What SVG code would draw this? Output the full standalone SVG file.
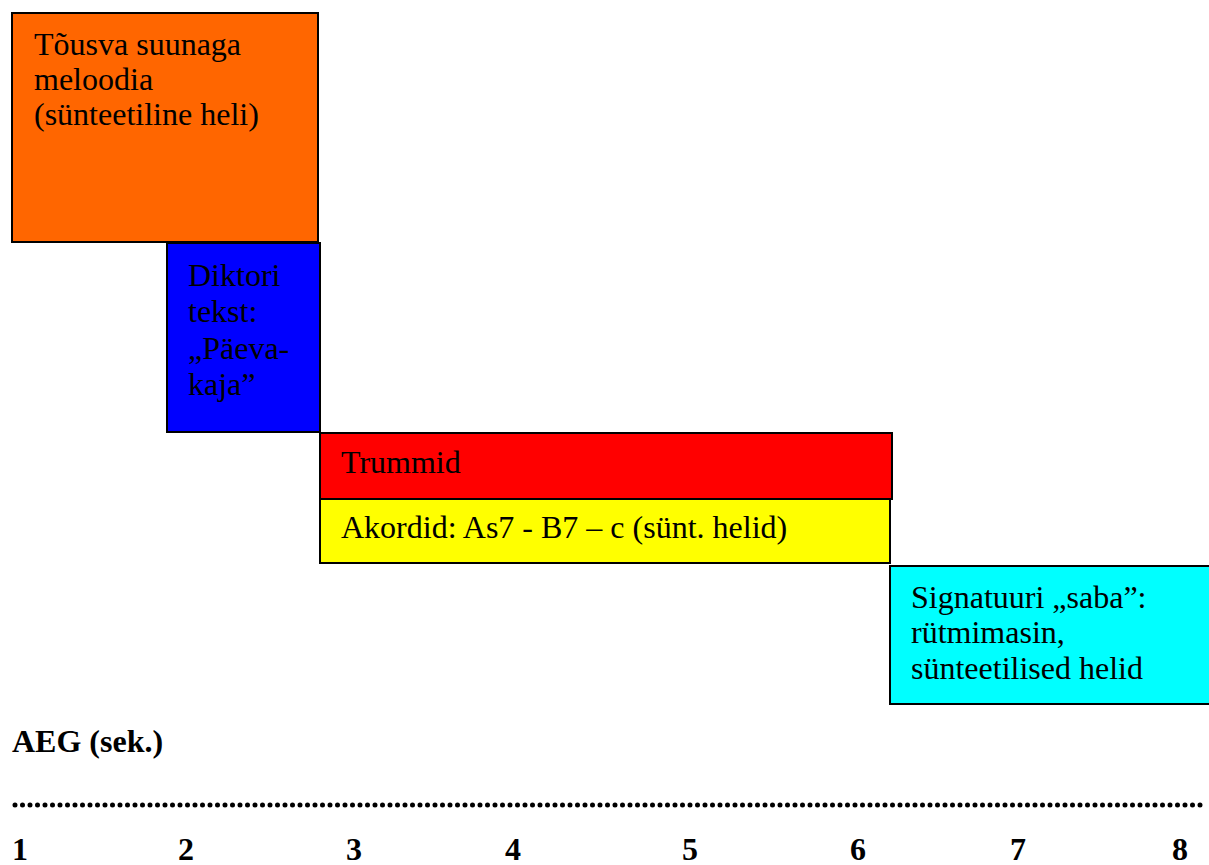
<svg xmlns="http://www.w3.org/2000/svg" width="1209" height="865" viewBox="0 0 1209 865">
<style>
.box{stroke:#000;stroke-width:2}
.t{font-family:"Liberation Serif","Times New Roman",serif;font-size:32px;fill:#000}
.b{font-family:"Liberation Serif","Times New Roman",serif;font-size:32px;font-weight:bold;fill:#000}
</style>
<rect width="1209" height="865" fill="#fff"/>
<g id="melody">
<rect class="box" x="12" y="13" width="306" height="229" fill="#ff6600"/>
<text class="t" x="34" y="55">Tõusva suunaga</text>
<text class="t" x="34" y="90">meloodia</text>
<text class="t" x="34" y="125">(sünteetiline heli)</text>
</g>
<g id="diktor">
<rect class="box" x="167" y="243" width="153" height="189" fill="#0000ff"/>
<text class="t" x="188" y="286">Diktori</text>
<text class="t" x="188" y="322">tekst:</text>
<text class="t" x="188" y="359">„Päeva-</text>
<text class="t" x="188" y="395">kaja”</text>
</g>
<g id="trummid">
<rect class="box" x="320" y="433" width="572" height="66" fill="#ff0000"/>
<text class="t" x="341" y="473">Trummid</text>
</g>
<g id="akordid">
<rect class="box" x="320" y="499" width="570" height="64" fill="#ffff00"/>
<text class="t" x="341" y="538">Akordid: As7 - B7 – c (sünt. helid)</text>
</g>
<g id="signatuur">
<rect class="box" x="890" y="566" width="330" height="138" fill="#00ffff"/>
<text class="t" x="911" y="608">Signatuuri „saba”:</text>
<text class="t" x="911" y="643">rütmimasin,</text>
<text class="t" x="911" y="679">sünteetilised helid</text>
</g>
<g id="axis">
<text class="b" x="12" y="752">AEG (sek.)</text>
<line x1="15" y1="805" x2="1202" y2="805" stroke="#000" stroke-width="5" stroke-linecap="round" stroke-dasharray="0 7.5"/>
<text class="b" x="12" y="860">1</text>
<text class="b" x="178" y="860">2</text>
<text class="b" x="346" y="860">3</text>
<text class="b" x="505" y="860">4</text>
<text class="b" x="682" y="860">5</text>
<text class="b" x="850" y="860">6</text>
<text class="b" x="1010" y="860">7</text>
<text class="b" x="1172" y="860">8</text>
</g>
</svg>
